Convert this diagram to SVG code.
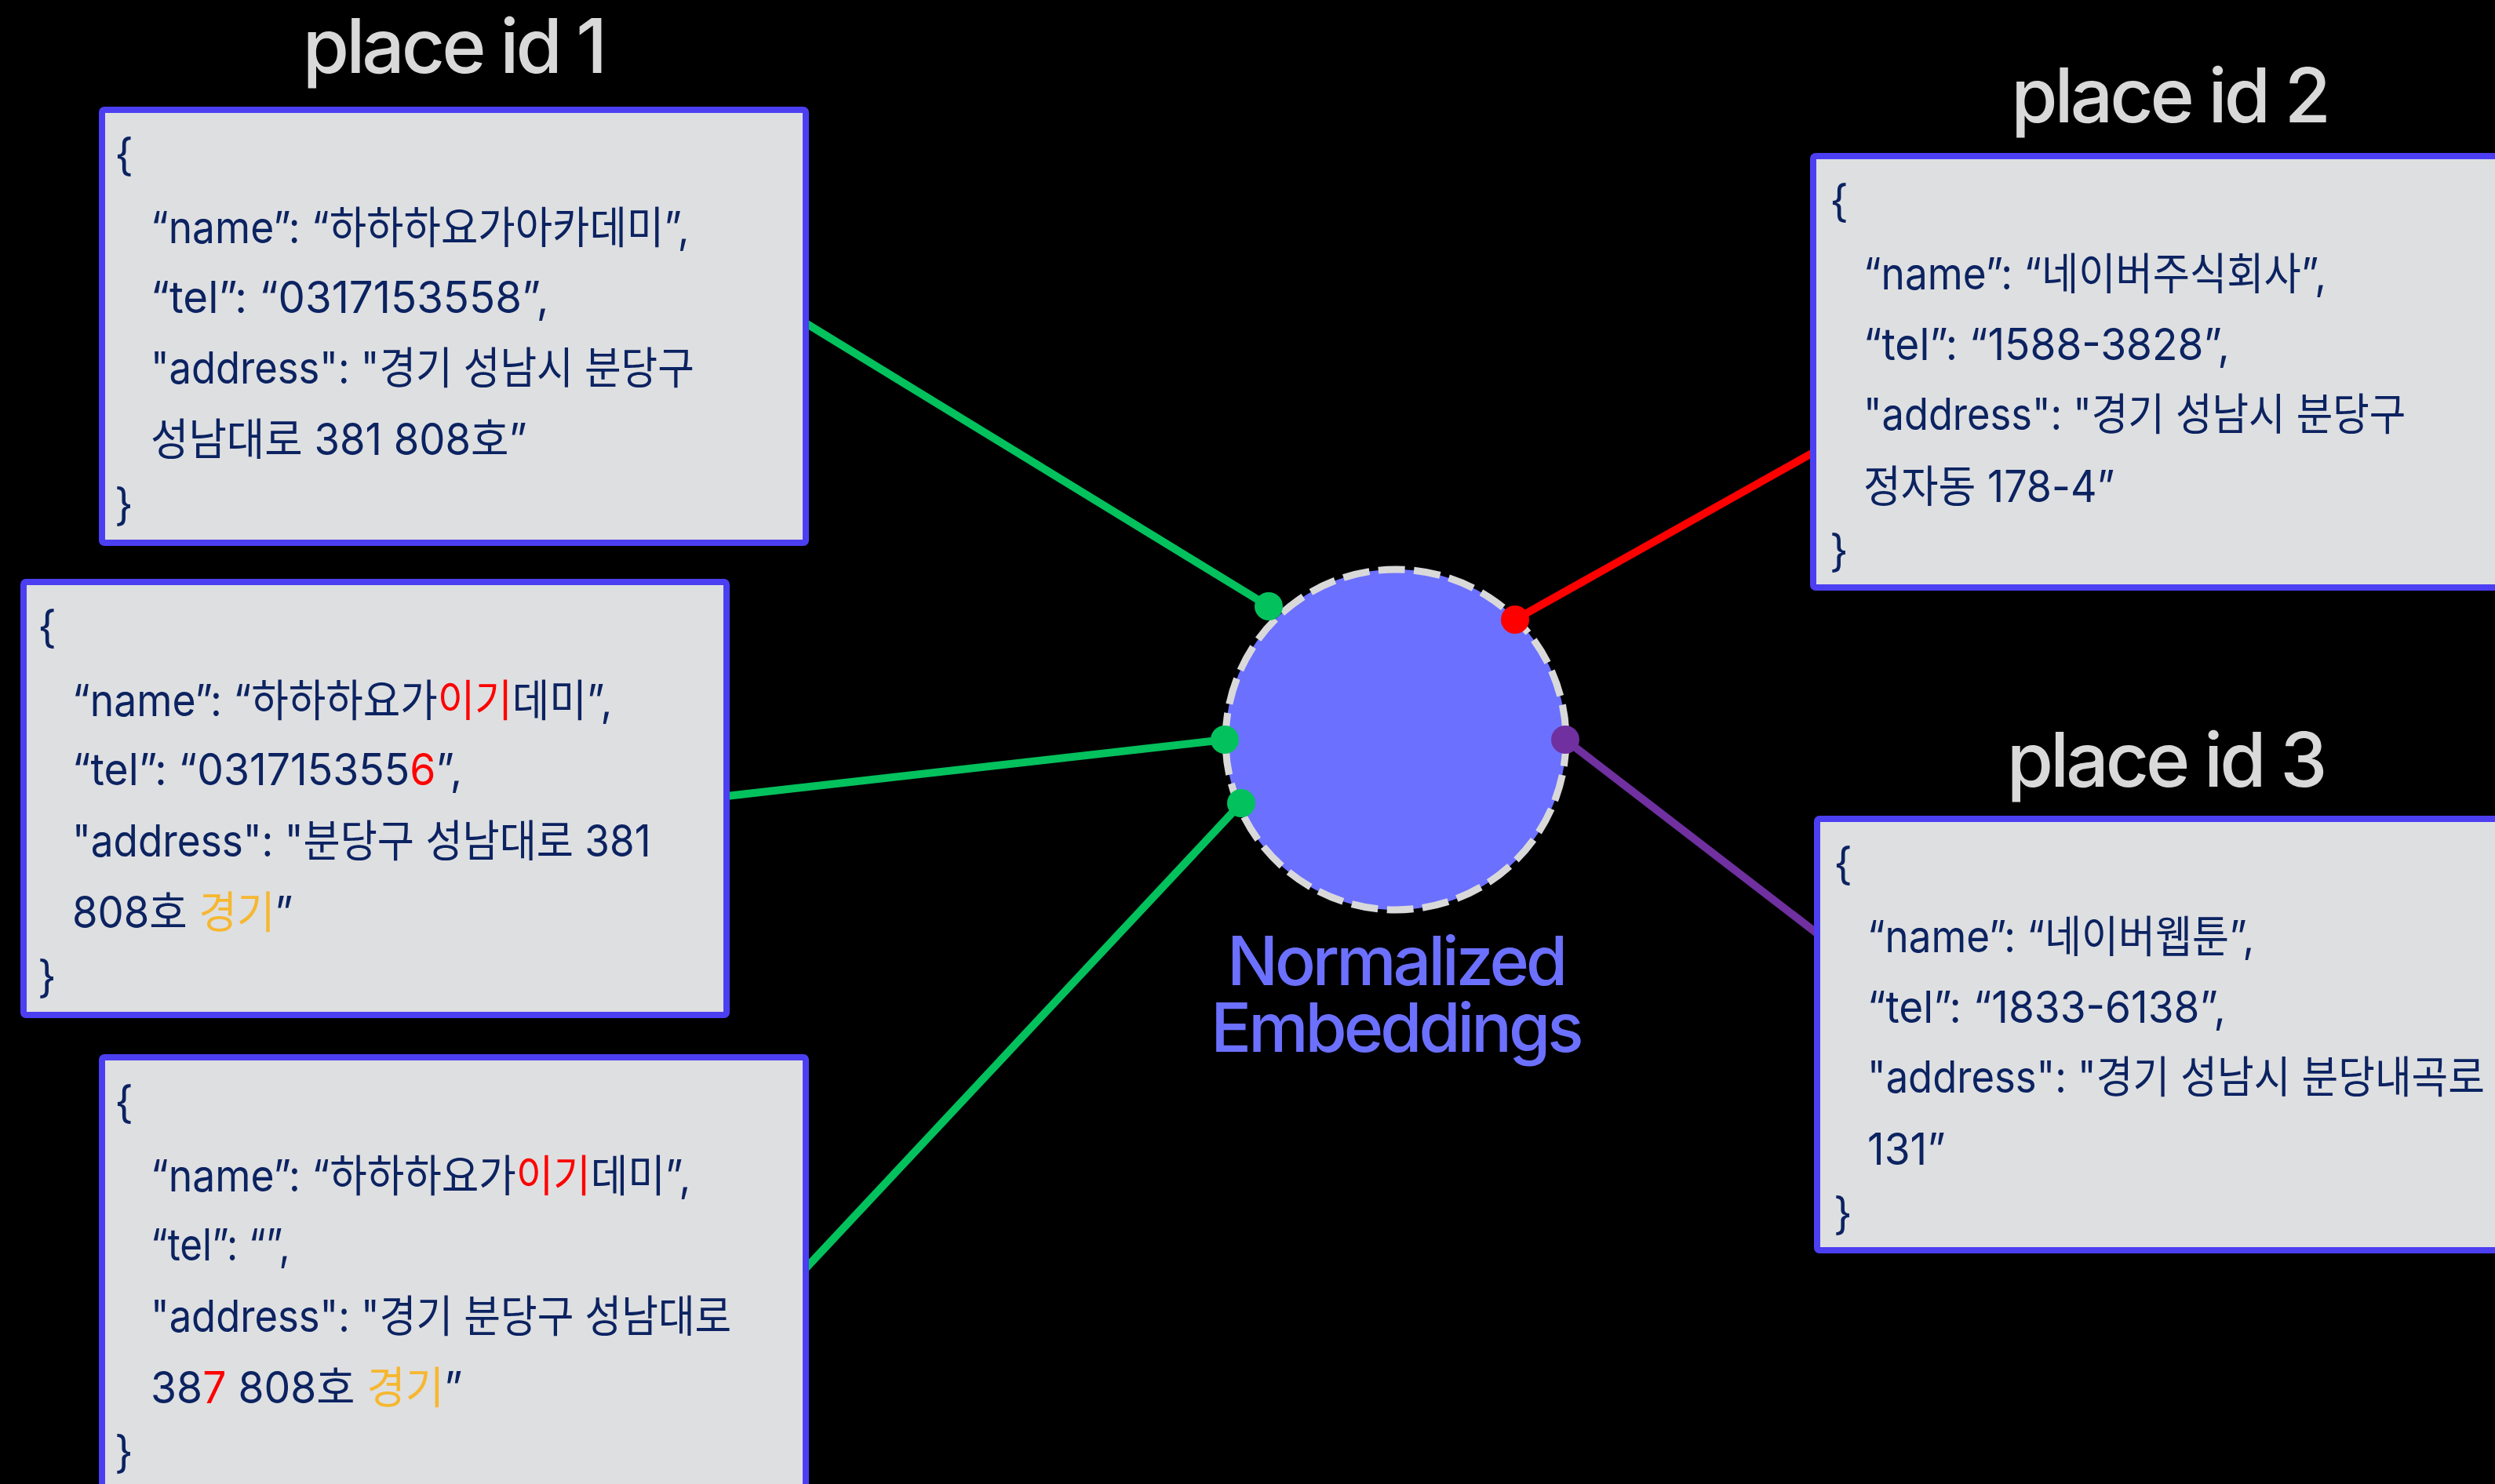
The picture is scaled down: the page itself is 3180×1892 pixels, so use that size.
<svg xmlns="http://www.w3.org/2000/svg" width="3180" height="1892" viewBox="0 0 3180 1892">
  <style>
    .title { font-family: Inter, "Noto Sans CJK KR", sans-serif; font-size: 96px; font-weight: 500; fill: #d9d9d9; letter-spacing: -4px; text-anchor: middle; }
    .card { fill: #dedfe1; stroke: #4c3ff2; stroke-width: 8; }
    .code { font-family: Inter, "Noto Sans CJK KR", sans-serif; font-size: 56px; font-weight: 400; fill: #0c2361; }
    .hl-red { fill: #ff0000; }
    .hl-org { fill: #f6b730; }
    .link { fill: none; stroke-width: 10; stroke-linecap: butt; }
    .label { font-family: Inter, "Noto Sans CJK KR", sans-serif; font-size: 86px; font-weight: 500; fill: #6c70ff; letter-spacing: -4px; text-anchor: middle; }
  </style>

  <rect x="0" y="0" width="3180" height="1892" fill="#000000"/>

  <!-- connectors between place records and the embedding space -->
  <g id="connectors">
    <line class="link" x1="1027" y1="412" x2="1617" y2="773" stroke="#03c15d"/>
    <line class="link" x1="926" y1="1015" x2="1561" y2="943" stroke="#03c15d"/>
    <line class="link" x1="1027" y1="1617" x2="1582" y2="1024" stroke="#03c15d"/>
    <line class="link" x1="1931" y1="790" x2="2311" y2="577" stroke="#ff0000"/>
    <line class="link" x1="1995" y1="943" x2="2316" y2="1190" stroke="#7030a0"/>
  </g>

  <!-- embedding space -->
  <g id="embeddings">
    <circle cx="1779" cy="943" r="217" fill="#6c70ff" stroke="#d9d9d9" stroke-width="9" stroke-dasharray="33.9 11.55"/>
    <text class="label" x="1779" y="1256">Normalized<tspan x="1779" dy="85">Embeddings</tspan></text>
  </g>

  <!-- connector end points on the embedding circle -->
  <g id="endpoints">
    <circle cx="1617" cy="773" r="18" fill="#03c15d"/>
    <circle cx="1561" cy="943" r="18" fill="#03c15d"/>
    <circle cx="1582" cy="1024" r="18" fill="#03c15d"/>
    <circle cx="1931" cy="790" r="18" fill="#ff0000"/>
    <circle cx="1995" cy="943" r="18" fill="#7030a0"/>
  </g>

  <!-- place id 1 : original record -->
  <g id="place1-title">
    <text class="title" x="578" y="93">place id 1</text>
  </g>
  <g id="place1-a" transform="translate(130,140)">
    <rect class="card" x="0" y="0" width="897" height="552" rx="3"/>
    <text class="code" x="16" y="77">{</text>
    <text class="code" transform="translate(62,170) scale(0.92,1)">“name”: “하하하요가아카데미”,</text>
    <text class="code" transform="translate(62,259) scale(0.975,1)">“tel”: “0317153558”,</text>
    <text class="code" transform="translate(62,349) scale(0.905,1)">"address": "경기 성남시 분당구</text>
    <text class="code" transform="translate(62,440) scale(0.94,1)">성남대로 381 808호”</text>
    <text class="code" x="16" y="523">}</text>
  </g>

  <!-- place id 1 : variant with typos and reordered address -->
  <g id="place1-b" transform="translate(30,742)">
    <rect class="card" x="0" y="0" width="896" height="552" rx="3"/>
    <text class="code" x="18" y="77">{</text>
    <text class="code" transform="translate(62,171) scale(0.922,1)">“name”: “하하하요가<tspan class="hl-red">이기</tspan>데미”,</text>
    <text class="code" transform="translate(62,259) scale(0.955,1)">“tel”: “031715355<tspan class="hl-red">6</tspan>”,</text>
    <text class="code" transform="translate(62,350) scale(0.915,1)">"address": "분당구 성남대로 381</text>
    <text class="code" transform="translate(62,441) scale(0.94,1)">808호 <tspan class="hl-org">경기</tspan>”</text>
    <text class="code" x="18" y="523">}</text>
  </g>

  <!-- place id 1 : variant with missing phone number -->
  <g id="place1-c" transform="translate(130,1348)">
    <rect class="card" x="0" y="0" width="897" height="552" rx="3"/>
    <text class="code" x="16" y="77">{</text>
    <text class="code" transform="translate(62,171) scale(0.922,1)">“name”: “하하하요가<tspan class="hl-red">이기</tspan>데미”,</text>
    <text class="code" transform="translate(62,259) scale(0.88,1)">“tel”: “”,</text>
    <text class="code" transform="translate(62,350) scale(0.906,1)">"address": "경기 분당구 성남대로</text>
    <text class="code" transform="translate(62,441) scale(0.955,1)">38<tspan class="hl-red">7</tspan> 808호 <tspan class="hl-org">경기</tspan>”</text>
    <text class="code" x="16" y="523">}</text>
  </g>

  <!-- place id 2 -->
  <g id="place2-title">
    <text class="title" x="2765" y="156">place id 2</text>
  </g>
  <g id="place2" transform="translate(2311,199)">
    <rect class="card" x="0" y="0" width="900" height="550" rx="3"/>
    <text class="code" x="21" y="77">{</text>
    <text class="code" transform="translate(64,170) scale(0.917,1)">“name”: “네이버주식회사”,</text>
    <text class="code" transform="translate(64,260) scale(0.951,1)">“tel”: “1588-3828”,</text>
    <text class="code" transform="translate(64,349) scale(0.903,1)">"address": "경기 성남시 분당구</text>
    <text class="code" transform="translate(64,441) scale(0.928,1)">정자동 178-4”</text>
    <text class="code" x="21" y="523">}</text>
  </g>

  <!-- place id 3 -->
  <g id="place3-title">
    <text class="title" x="2760" y="1003">place id 3</text>
  </g>
  <g id="place3" transform="translate(2316,1044)">
    <rect class="card" x="0" y="0" width="900" height="550" rx="3"/>
    <text class="code" x="21" y="77">{</text>
    <text class="code" transform="translate(64,170) scale(0.913,1)">“name”: “네이버웹툰”,</text>
    <text class="code" transform="translate(64,260) scale(0.95,1)">“tel”: “1833-6138”,</text>
    <text class="code" transform="translate(64,349) scale(0.906,1)">"address": "경기 성남시 분당내곡로</text>
    <text class="code" transform="translate(64,441) scale(0.95,1)">131”</text>
    <text class="code" x="21" y="523">}</text>
  </g>
</svg>
